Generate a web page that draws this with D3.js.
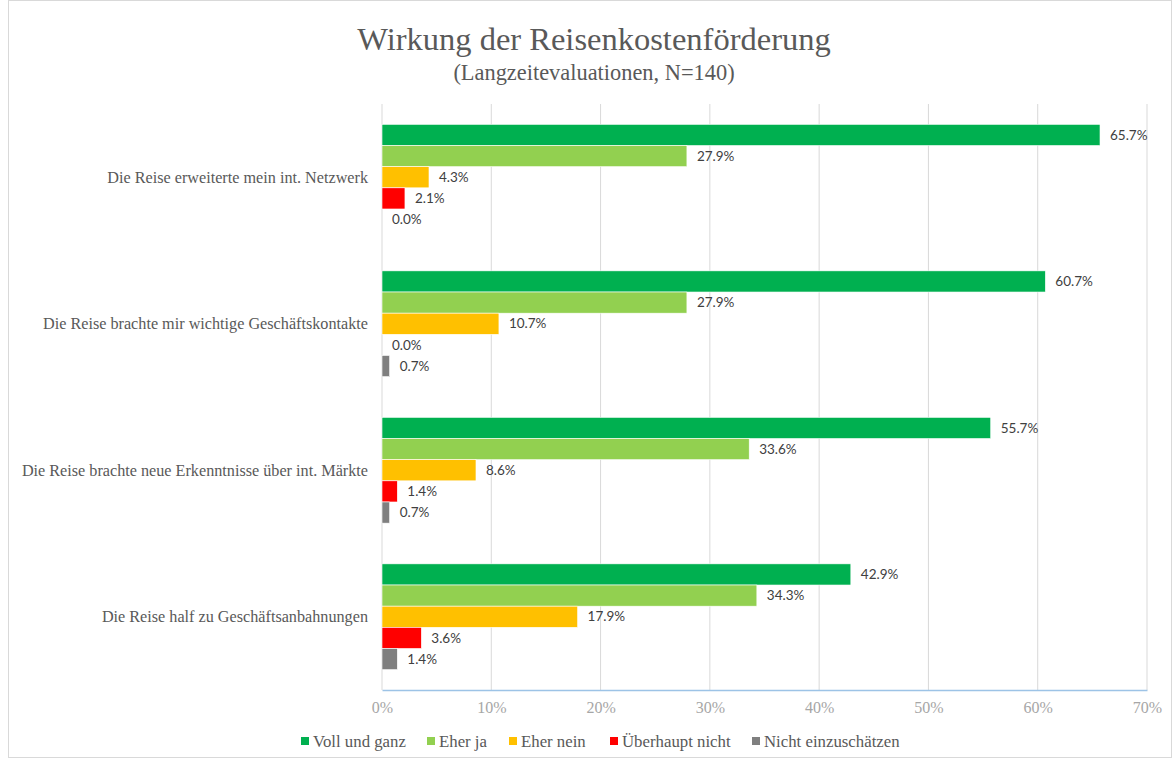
<!DOCTYPE html>
<html>
<head>
<meta charset="utf-8">
<script src="https://cdn.jsdelivr.net/npm/d3@7"></script>
<style>
  body { margin: 0; background: #fff; }
  svg { display: block; }
</style>
</head>
<body>
<svg id="chart" width="1175" height="760"></svg>
<script>
const categories = [
  'Die Reise erweiterte mein int. Netzwerk',
  'Die Reise brachte mir wichtige Geschäftskontakte',
  'Die Reise brachte neue Erkenntnisse über int. Märkte',
  'Die Reise half zu Geschäftsanbahnungen'
];
const seriesNames = ['Voll und ganz', 'Eher ja', 'Eher nein', 'Überhaupt nicht', 'Nicht einzuschätzen'];
const seriesColors = ['#00b050', '#92d050', '#ffc000', '#ff0000', '#7f7f7f'];
// one row per category, one value per series
const values = [
  [0.657, 0.279, 0.043, 0.021, 0.000],
  [0.607, 0.279, 0.107, 0.000, 0.007],
  [0.557, 0.336, 0.086, 0.014, 0.007],
  [0.429, 0.343, 0.179, 0.036, 0.014]
];
const xTicks = [0, 0.1, 0.2, 0.3, 0.4, 0.5, 0.6, 0.7];

const serif = "'Liberation Serif', 'Times New Roman', serif";
const sans = "Lato, 'Open Sans', sans-serif";

const svg = d3.select('#chart');

// chart frame
svg.append('rect')
  .attr('x', 8.5).attr('y', 0.5)
  .attr('width', 1163).attr('height', 757)
  .attr('fill', 'none').attr('stroke', '#d9d9d9');

const x = d3.scaleLinear().domain([0, 0.7]).range([382, 1147]);
const y = d3.scaleBand().domain(categories).range([104, 690]).paddingInner(0.278).paddingOuter(0.139);
const yInner = d3.scaleBand().domain(seriesNames).range([0, y.bandwidth()]);

// grid
svg.append('g')
  .selectAll('line')
  .data(xTicks)
  .join('line')
  .attr('x1', d => x(d)).attr('x2', d => x(d))
  .attr('y1', 104).attr('y2', 690)
  .attr('stroke', '#d9d9d9').attr('stroke-width', 1);

// bars
const groups = svg.append('g')
  .selectAll('g')
  .data(categories)
  .join('g')
  .attr('transform', d => `translate(0,${y(d)})`);

groups.selectAll('rect')
  .data((c, i) => values[i].map((v, j) => ({ v, s: seriesNames[j], color: seriesColors[j] })))
  .join('rect')
  .attr('x', x(0))
  .attr('y', d => yInner(d.s))
  .attr('width', d => x(d.v) - x(0))
  .attr('height', yInner.bandwidth())
  .attr('fill', d => d.color)
  .attr('stroke', '#fff').attr('stroke-width', 0.6);

groups.selectAll('text')
  .data((c, i) => values[i].map((v, j) => ({ v, s: seriesNames[j] })))
  .join('text')
  .attr('x', d => x(d.v) + 10)
  .attr('y', d => yInner(d.s) + yInner.bandwidth() / 2)
  .attr('dy', '0.35em')
  .attr('font-family', sans).attr('font-size', 13.5)
  .attr('fill', '#404040')
  .text(d => d3.format('.1%')(d.v));

// category labels
svg.append('g')
  .selectAll('text')
  .data(categories)
  .join('text')
  .attr('x', 368)
  .attr('y', d => y(d) + y.bandwidth() / 2)
  .attr('dy', '0.35em')
  .attr('text-anchor', 'end')
  .attr('font-family', serif).attr('font-size', 16.2)
  .attr('fill', '#595959')
  .text(d => d);

// x axis
const xAxis = svg.append('g')
  .attr('transform', 'translate(0,690)')
  .call(d3.axisBottom(x).tickValues(xTicks).tickFormat(d3.format('.0%')).tickSize(0).tickPadding(12));
xAxis.select('.domain').attr('stroke', '#9dc3e6').attr('stroke-width', 1.5);
xAxis.selectAll('text')
  .attr('font-family', serif).attr('font-size', 16)
  .attr('fill', '#a6a6a6');

// title
svg.append('text')
  .attr('x', 594).attr('y', 50)
  .attr('text-anchor', 'middle')
  .attr('font-family', serif).attr('font-size', 32.5)
  .attr('fill', '#595959')
  .text('Wirkung der Reisenkostenförderung');
svg.append('text')
  .attr('x', 594).attr('y', 80)
  .attr('text-anchor', 'middle')
  .attr('font-family', serif).attr('font-size', 22.4)
  .attr('fill', '#595959')
  .text('(Langzeitevaluationen, N=140)');

// legend
const legendX = [301, 427, 509, 610, 752];
const legend = svg.append('g')
  .selectAll('g')
  .data(seriesNames)
  .join('g')
  .attr('transform', (d, i) => `translate(${legendX[i]},741)`);
legend.append('rect')
  .attr('x', 0).attr('y', -4)
  .attr('width', 8).attr('height', 8)
  .attr('fill', (d, i) => seriesColors[i]);
legend.append('text')
  .attr('x', 12).attr('dy', '0.35em')
  .attr('font-family', serif).attr('font-size', 16.8)
  .attr('fill', '#595959')
  .text(d => d);
</script>
</body>
</html>
